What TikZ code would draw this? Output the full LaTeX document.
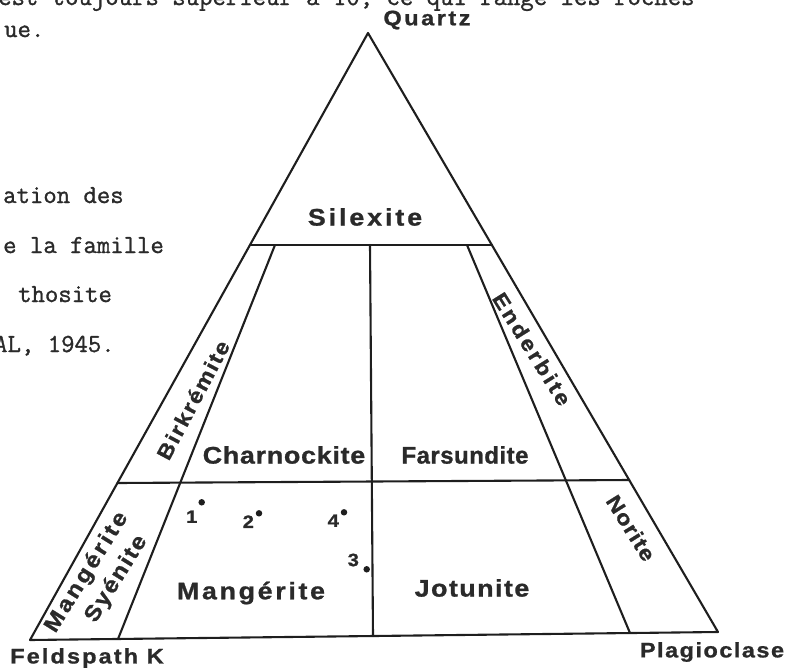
\documentclass[tikz,border=0pt]{standalone}
\usepackage{fontspec}
\newfontfamily\labfont[FakeStretch=1.12,FakeBold=1]{Liberation Sans}
\newfontfamily\labfontn[FakeBold=1]{Liberation Sans}
\newfontfamily\twfont[FakeBold=1.2]{Latin Modern Mono}
\newcommand\lsp[2]{{\addfontfeatures{LetterSpace=#1}#2}}
\definecolor{inkc}{HTML}{1E1E1E}
\definecolor{textc}{HTML}{2A2A2A}
\begin{document}
\begin{tikzpicture}[x=1pt,y=-1pt,
  ln/.style={draw=inkc,line width=2.1pt,line join=round,line cap=round},
  lab/.style={text=textc,inner sep=0pt,font=\labfont\bfseries\fontsize{24}{24}\selectfont},
  slab/.style={text=textc,inner sep=0pt,font=\labfont\bfseries\fontsize{21}{21}\selectfont},
  num/.style={text=textc,inner sep=0pt,font=\labfont\bfseries\fontsize{18}{18}\selectfont},
  dotc/.style={circle,fill=inkc,inner sep=0pt,minimum size=6.5pt},
  tw/.style={text=textc,inner sep=0pt,anchor=base west,font=\twfont\fontsize{26}{26}\selectfont}]
\useasboundingbox (0,0) rectangle (785,670);
\clip (0,0) rectangle (785,670);
% surrounding page text
\node[tw] (t0) at (-2,5) {est toujours supérieur à 10, ce qui range les roches};
\node[tw] (t1) at (4,37) {ue.};
\node[tw] (t2) at (3,203) {ation des};
\node[tw] (t3) at (3,253) {e la famille};
\node[tw] (t4) at (18,302) {thosite};
\node[tw] (t5) at (-6,352) {AL, 1945.};
% triangle coordinates
\coordinate (A) at (368,33);
\coordinate (BL) at (30,640);
\coordinate (BR) at (718,632);
\coordinate (SL) at (250,245);
\coordinate (SR) at (492,245);
\coordinate (LT) at (275,245);
\coordinate (LB) at (118,639);
\coordinate (MT) at (370,245);
\coordinate (MB) at (373,636);
\coordinate (RT) at (467,245);
\coordinate (RB) at (630,633);
\coordinate (HL) at (117.4,483);
\coordinate (HR) at (629.2,480);
% lines
\draw[ln] (A) -- (BL) -- (BR) -- cycle;
\draw[ln] (SL) -- (SR);
\draw[ln] (HL) -- (HR);
\draw[ln] (LT) -- (LB);
\draw[ln] (MT) -- (MB);
\draw[ln] (RT) -- (RB);
% vertex labels
\node[slab] (qz) at (427,20) {\lsp{12}{Quartz}};
\node[slab] (fk) at (87,658) {\lsp{10}{Feldspath K}};
\node[slab] (pl) at (712,652) {\lsp{7}{Plagioclase}};
% field labels
\node[lab] (si) at (365,217) {\lsp{12}{Silexite}};
\node[lab] (ch) at (284,455) {\lsp{3}{Charnockite}};
\node[lab,font=\labfontn\bfseries\fontsize{24}{24}\selectfont] (fa) at (465,455) {\lsp{2}{Farsundite}};
\node[lab] (ma) at (251,593) {\lsp{11}{Mangérite}};
\node[lab] (jo) at (472,588) {\lsp{6}{Jotunite}};
\node[slab,rotate=62] (bi) at (193,400) {\lsp{8}{Birkrémite}};
\node[slab,rotate=-58] (en) at (532,349) {\lsp{12}{Enderbite}};
\node[slab,rotate=-58] (no) at (631,528) {\lsp{5}{Norite}};
\node[slab,rotate=58,align=center,font=\labfont\bfseries\fontsize{22}{28.6}\selectfont] (ms) at (99,580)
  {\lsp{12}{Mangérite}\\\hspace*{20pt}\lsp{8}{Syénite}};
% sample points
\node[dotc] (d1) at (201.7,502.3) {};
\node[dotc] (d2) at (259,513.3) {};
\node[dotc] (d4) at (344,512.3) {};
\node[dotc] (d3) at (366.7,569.3) {};
\node[num] (n1) at (191.7,516.7) {1};
\node[num] (n2) at (248.3,521.7) {2};
\node[num] (n4) at (333.3,520.7) {4};
\node[num] (n3) at (353.3,560) {3};
\end{tikzpicture}
\end{document}
